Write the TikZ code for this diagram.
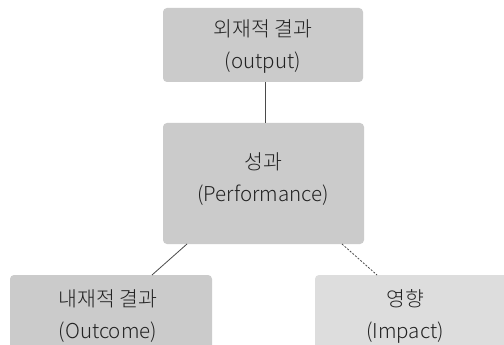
\documentclass[tikz,border=0pt]{standalone}
\usepackage{fontspec}
\setmainfont{Noto Sans CJK KR}[UprightFont=* Light]
\begin{document}
\begin{tikzpicture}[x=1pt,y=-1pt,
  box/.style={rounded corners=4pt, inner sep=0pt},
  dark/.style={box, fill=boxgray},
  light/.style={box, fill=boxlight},
  lbl/.style={align=center, text=txtgray, font=\fontsize{20.5}{32}\selectfont, inner sep=0pt},
  conn/.style={draw=linegray, line width=0.8pt}]
\definecolor{boxgray}{HTML}{CBCBCB}
\definecolor{boxlight}{HTML}{DDDDDD}
\definecolor{txtgray}{HTML}{222222}
\definecolor{linegray}{HTML}{4A4A4A}
\useasboundingbox (0,0) rectangle (504,345);
\clip (0,0) rectangle (504,345);
\fill[white] (0,0) rectangle (504,345);
% boxes
\node[dark, minimum width=200pt, minimum height=74pt] (out) at (263,45) {};
\node[dark, minimum width=201pt, minimum height=121pt] (perf) at (263.5,183.5) {};
\node[dark, minimum width=202pt, minimum height=100pt] (outc) at (111,325) {};
\node[light, minimum width=206pt, minimum height=100pt] (imp) at (418,325) {};
% texts
\node[lbl] (outt) at (263,47) {외재적 결과\\(output)};
\node[lbl] (perft) at (263,179) {성과\\(Performance)};
\node[lbl] (outct) at (108,316) {내재적 결과\\(Outcome)};
\node[lbl] (impt) at (405,316) {영향\\(Impact)};
% connectors
\draw[conn] (out.south -| 265,0) -- (perf.north -| 265,0);
\draw[conn] (187,244) coordinate (p1) -- (152,275) coordinate (p2);
\draw[conn, dash pattern=on 2pt off 1.5pt] (342,244) coordinate (p3) -- (377,275) coordinate (p4);
\end{tikzpicture}
\end{document}
